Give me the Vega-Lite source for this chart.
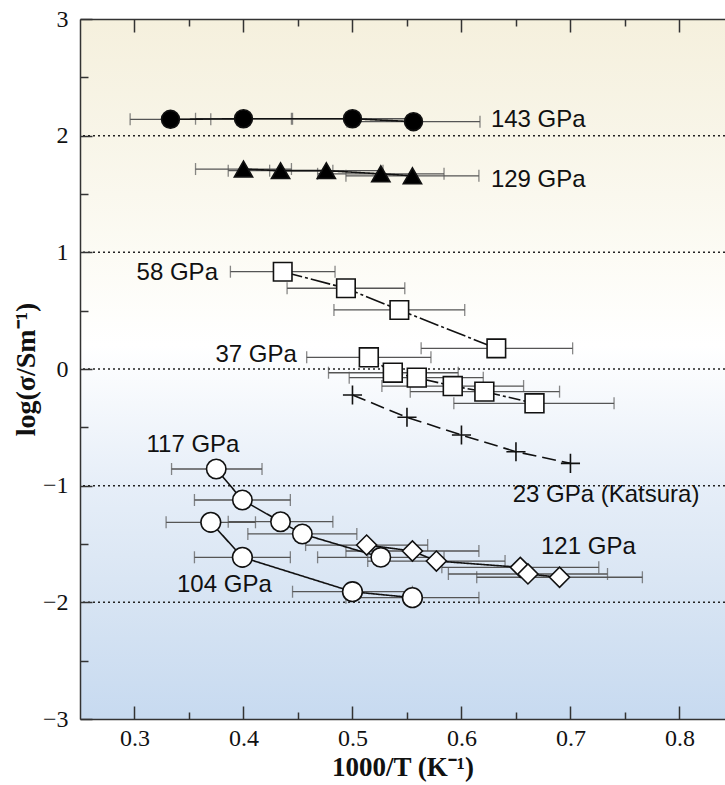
{
  "$schema": "https://vega.github.io/schema/vega-lite/v6.json",
  "width": 645,
  "height": 700,
  "autosize": {"type": "none"},
  "padding": {"left": 80, "top": 19, "right": 0, "bottom": 66},
  "background": "white",
  "resolve": {"axis": {"x": "independent", "y": "independent"}},
  "config": {
    "view": {"stroke": null},
    "axis": {
      "domainColor": "#333", "domainWidth": 1.5,
      "tickColor": "#333", "tickWidth": 1.5,
      "labelFont": "Liberation Serif", "labelFontSize": 24, "labelColor": "#111",
      "titleFont": "Liberation Serif", "titleFontSize": 27, "titleFontWeight": "bold", "titleColor": "#111",
      "labelFlush": false, "labelOverlap": false, "grid": false
    },
    "text": {"font": "Liberation Sans", "fontSize": 24, "color": "#111"}
  },
  "datasets": {
    "bg": [{"top": 3, "bottom": -3}],
    "pts": [
      {"s": "143", "x": 0.333, "y": 2.14, "lo": 0.296, "hi": 0.370},
      {"s": "143", "x": 0.400, "y": 2.145, "lo": 0.356, "hi": 0.444},
      {"s": "143", "x": 0.500, "y": 2.145, "lo": 0.445, "hi": 0.555},
      {"s": "143", "x": 0.556, "y": 2.12, "lo": 0.495, "hi": 0.617},
      {"s": "129", "x": 0.400, "y": 1.714, "lo": 0.356, "hi": 0.444},
      {"s": "129", "x": 0.434, "y": 1.70, "lo": 0.386, "hi": 0.482},
      {"s": "129", "x": 0.476, "y": 1.70, "lo": 0.424, "hi": 0.528},
      {"s": "129", "x": 0.526, "y": 1.673, "lo": 0.468, "hi": 0.584},
      {"s": "129", "x": 0.555, "y": 1.656, "lo": 0.494, "hi": 0.616},
      {"s": "58", "x": 0.436, "y": 0.834, "lo": 0.388, "hi": 0.484},
      {"s": "58", "x": 0.494, "y": 0.692, "lo": 0.440, "hi": 0.548},
      {"s": "58", "x": 0.543, "y": 0.506, "lo": 0.483, "hi": 0.603},
      {"s": "58", "x": 0.632, "y": 0.177, "lo": 0.563, "hi": 0.702},
      {"s": "37", "x": 0.515, "y": 0.100, "lo": 0.458, "hi": 0.572},
      {"s": "37", "x": 0.537, "y": -0.032, "lo": 0.478, "hi": 0.597},
      {"s": "37", "x": 0.559, "y": -0.074, "lo": 0.497, "hi": 0.620},
      {"s": "37", "x": 0.592, "y": -0.146, "lo": 0.527, "hi": 0.657},
      {"s": "37", "x": 0.621, "y": -0.194, "lo": 0.553, "hi": 0.690},
      {"s": "37", "x": 0.667, "y": -0.294, "lo": 0.593, "hi": 0.740},
      {"s": "K23", "x": 0.50, "y": -0.223, "lo": null, "hi": null},
      {"s": "K23", "x": 0.55, "y": -0.414, "lo": null, "hi": null},
      {"s": "K23", "x": 0.60, "y": -0.566, "lo": null, "hi": null},
      {"s": "K23", "x": 0.65, "y": -0.709, "lo": null, "hi": null},
      {"s": "K23", "x": 0.70, "y": -0.809, "lo": null, "hi": null},
      {"s": "117", "x": 0.375, "y": -0.857, "lo": 0.334, "hi": 0.417},
      {"s": "117", "x": 0.399, "y": -1.123, "lo": 0.355, "hi": 0.443},
      {"s": "117", "x": 0.434, "y": -1.309, "lo": 0.386, "hi": 0.482},
      {"s": "117", "x": 0.454, "y": -1.414, "lo": 0.404, "hi": 0.504},
      {"s": "117", "x": 0.526, "y": -1.614, "lo": 0.468, "hi": 0.584},
      {"s": "104", "x": 0.370, "y": -1.314, "lo": 0.329, "hi": 0.411},
      {"s": "104", "x": 0.399, "y": -1.614, "lo": 0.355, "hi": 0.443},
      {"s": "104", "x": 0.500, "y": -1.909, "lo": 0.445, "hi": 0.555},
      {"s": "104", "x": 0.555, "y": -1.960, "lo": 0.494, "hi": 0.616},
      {"s": "121", "x": 0.513, "y": -1.509, "lo": 0.457, "hi": 0.569},
      {"s": "121", "x": 0.555, "y": -1.560, "lo": 0.494, "hi": 0.616},
      {"s": "121", "x": 0.577, "y": -1.646, "lo": 0.514, "hi": 0.640},
      {"s": "121", "x": 0.654, "y": -1.700, "lo": 0.582, "hi": 0.726},
      {"s": "121", "x": 0.661, "y": -1.757, "lo": 0.588, "hi": 0.734},
      {"s": "121", "x": 0.690, "y": -1.785, "lo": 0.614, "hi": 0.766}
    ],
    "gridlines": [{"g": -2}, {"g": -1}, {"g": 0}, {"g": 1}, {"g": 2}],
    "labelsLeft": [
      {"x": 0.627, "y": 2.134, "t": "143 GPa"},
      {"x": 0.627, "y": 1.62, "t": "129 GPa"},
      {"x": 0.311, "y": -0.651, "t": "117 GPa"},
      {"x": 0.339, "y": -1.851, "t": "104 GPa"},
      {"x": 0.647, "y": -1.08, "t": "23 GPa (Katsura)"},
      {"x": 0.673, "y": -1.523, "t": "121 GPa"}
    ],
    "labelsRight": [
      {"x": 0.3766, "y": 0.823, "t": "58 GPa"},
      {"x": 0.449, "y": 0.12, "t": "37 GPa"}
    ]
  },
  "layer": [
    {
      "data": {"name": "bg"},
      "mark": {"type": "rect",
        "color": {
          "gradient": "linear", "x1": 0, "y1": 0, "x2": 0, "y2": 1,
          "stops": [
            {"offset": 0, "color": "#f5f0dd"},
            {"offset": 0.167, "color": "#f8f5e8"},
            {"offset": 0.333, "color": "#fcfbf4"},
            {"offset": 0.467, "color": "#ffffff"},
            {"offset": 0.667, "color": "#e6eef8"},
            {"offset": 0.833, "color": "#d7e4f3"},
            {"offset": 1, "color": "#c7daf0"}
          ]
        }},
      "encoding": {
        "y": {"field": "top", "type": "quantitative", "scale": {"domain": [-3, 3], "nice": false},
          "axis": {"orient": "left", "zindex": 1,
            "values": [-3, -2.5, -2, -1.5, -1, -0.5, 0, 0.5, 1, 1.5, 2, 2.5, 3],
            "format": ".0f",
            "labelExpr": "datum.value % 1 === 0 ? datum.label : ''",
            "tickSize": {"condition": {"test": "datum.value % 1 === 0", "value": -12}, "value": -8},
            "labelPadding": 24,
            "title": "log(σ/Sm⁻¹)", "titleFontSize": 28, "titlePadding": 2}},
        "y2": {"field": "bottom"}
      }
    },
    {
      "data": {"name": "gridlines"},
      "mark": {"type": "rule", "color": "#222", "strokeWidth": 1.5, "strokeDash": [2, 3]},
      "encoding": {
        "y": {"field": "g", "type": "quantitative", "axis": null}
      }
    },
    {
      "data": {"name": "pts"},
      "transform": [{"filter": "isValid(datum.lo)"}],
      "mark": {"type": "errorbar", "ticks": {"size": 12}, "color": "#555", "thickness": 1.3},
      "encoding": {
        "x": {"field": "lo", "type": "quantitative", "scale": {"domain": [0.25, 0.8418], "nice": false, "zero": false}, "axis": null},
        "x2": {"field": "hi"},
        "y": {"field": "y", "type": "quantitative", "axis": null}
      }
    },
    {
      "data": {"name": "pts"},
      "mark": {"type": "line", "color": "#111", "strokeWidth": 1.6},
      "encoding": {
        "x": {"field": "x", "type": "quantitative",
          "axis": {"orient": "top", "zindex": 1, "values": [0.3, 0.35, 0.4, 0.45, 0.5, 0.55, 0.6, 0.65, 0.7, 0.75, 0.8],
            "labels": false, "title": null,
            "tickSize": {"condition": {"test": "round(datum.value*100)%10===0", "value": -13}, "value": -7}}},
        "y": {"field": "y", "type": "quantitative", "axis": null},
        "detail": {"field": "s"},
        "strokeDash": {"field": "s", "type": "nominal", "legend": null,
          "scale": {"domain": ["143", "129", "58", "37", "K23", "117", "104", "121"],
            "range": [[1, 0], [1, 0], [20, 3, 3, 3], [12, 3, 3, 3], [14, 6], [1, 0], [1, 0], [1, 0]]}}
      }
    },
    {
      "data": {"name": "pts"},
      "mark": {"type": "point", "filled": false, "stroke": "#111", "strokeWidth": 1.6, "opacity": 1},
      "encoding": {
        "x": {"field": "x", "type": "quantitative",
          "axis": {"orient": "bottom", "zindex": 1, "values": [0.3, 0.35, 0.4, 0.45, 0.5, 0.55, 0.6, 0.65, 0.7, 0.75, 0.8],
            "format": ".1f",
            "labelExpr": "round(datum.value*100)%10===0 ? datum.label : ''",
            "tickSize": {"condition": {"test": "round(datum.value*100)%10===0", "value": -13}, "value": -7},
            "labelPadding": 20, "title": "1000/T (K⁻¹)", "titlePadding": -2}},
        "y": {"field": "y", "type": "quantitative", "axis": null},
        "shape": {"field": "s", "type": "nominal", "legend": null,
          "scale": {"domain": ["143", "129", "58", "37", "K23", "117", "104", "121"],
            "range": ["circle", "triangle-up", "square", "square", "M-1,0H1M0,-1V1", "circle", "circle", "diamond"]}},
        "fill": {"field": "s", "type": "nominal", "legend": null,
          "scale": {"domain": ["143", "129", "58", "37", "K23", "117", "104", "121"],
            "range": ["#000000", "#000000", "#ffffff", "#ffffff", "transparent", "#ffffff", "#ffffff", "#ffffff"]}},
        "size": {"field": "s", "type": "nominal", "legend": null,
          "scale": {"domain": ["143", "129", "58", "37", "K23", "117", "104", "121"],
            "range": [320, 400, 220, 220, 256, 280, 280, 340]}}
      }
    },
    {
      "data": {"name": "labelsLeft"},
      "mark": {"type": "text", "align": "left", "baseline": "middle"},
      "encoding": {
        "x": {"field": "x", "type": "quantitative", "axis": null},
        "y": {"field": "y", "type": "quantitative", "axis": null},
        "text": {"field": "t"}
      }
    },
    {
      "data": {"name": "labelsRight"},
      "mark": {"type": "text", "align": "right", "baseline": "middle"},
      "encoding": {
        "x": {"field": "x", "type": "quantitative", "axis": null},
        "y": {"field": "y", "type": "quantitative", "axis": null},
        "text": {"field": "t"}
      }
    }
  ]
}
